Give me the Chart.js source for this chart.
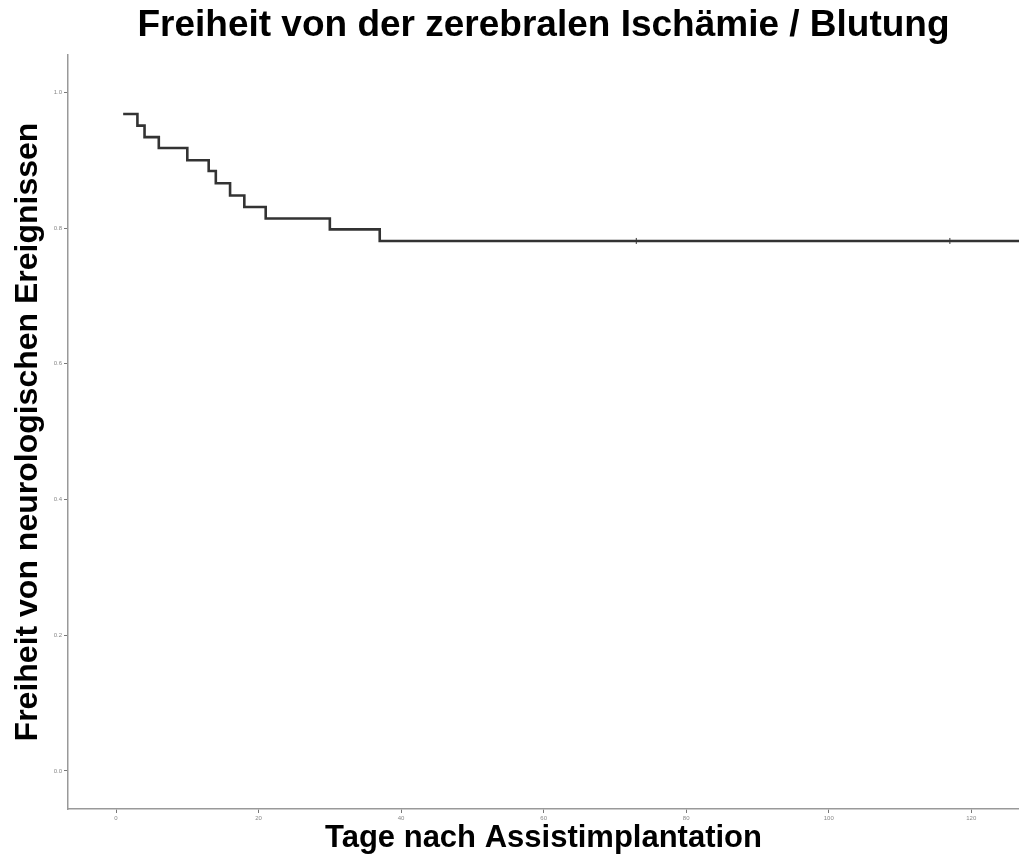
<!DOCTYPE html>
<html>
<head>
<meta charset="utf-8">
<script src="https://cdn.jsdelivr.net/npm/chart.js@4.4.0/dist/chart.umd.min.js"></script>
<style>
  html, body { margin: 0; padding: 0; background: #fff; overflow: hidden; }
  canvas { display: block; }
</style>
</head>
<body>
<canvas id="kmChart" width="1019" height="859"></canvas>
<script>
// Kaplan-Meier Stufen: Zeitpunkte (Tage) und Überlebensanteil
const eventDays = [1, 3, 4, 6, 10, 13, 14, 16, 18, 21, 30, 37, 127];
const freedom = [0.968, 0.951, 0.934, 0.918, 0.900, 0.884, 0.866, 0.848, 0.831, 0.814, 0.798, 0.781, 0.781];
// zensierte Beobachtungen
const censorDays = [73, 117];
const censorValues = [0.781, 0.781];

const xTicks = [0, 20, 40, 60, 80, 100, 120];
const yTicks = [0.0, 0.2, 0.4, 0.6, 0.8, 1.0];

const fontFamily = "'Liberation Sans', Arial, Helvetica, sans-serif";

const ctx = document.getElementById('kmChart').getContext('2d');
new Chart(ctx, {
    type: 'line',
    data: {
        datasets: [{
            label: 'Freiheit',
            data: eventDays.map((d, i) => ({ x: d, y: freedom[i] })),
            stepped: true,
            borderColor: '#333',
            borderWidth: 2.6,
            pointRadius: 0,
            fill: false
        },
        {
            label: 'zensiert',
            data: censorDays.map((d, i) => ({ x: d, y: censorValues[i] })),
            showLine: false,
            pointStyle: 'line',
            rotation: 90,
            pointRadius: 3,
            borderColor: '#333',
            borderWidth: 1
        }]
    },
    options: {
        responsive: false,
        animation: false,
        // kein Auto-Padding, damit die x-Achse bis an den rechten Rand läuft
        layout: { padding: 0, autoPadding: false },
        plugins: {
            legend: { display: false },
            tooltip: { enabled: false },
            title: {
                display: true,
                fullSize: false,
                text: 'Freiheit von der zerebralen Ischämie / Blutung',
                color: '#000',
                font: { family: fontFamily, size: 37, weight: 'bold' },
                padding: { top: 4, bottom: 6.6 }
            }
        },
        scales: {
            x: {
                type: 'linear',
                min: -6.74,
                max: 126.7,
                afterBuildTicks: (scale) => { scale.ticks = xTicks.map(v => ({ value: v })); },
                afterFit: (scale) => {
                    scale.height = 50;
                    scale.paddingLeft = 0;
                    scale.paddingRight = 0;
                },
                ticks: {
                    color: '#888',
                    font: { family: fontFamily, size: 6 },
                    padding: 2,
                    maxRotation: 0
                },
                grid: { drawOnChartArea: false, drawTicks: true, tickLength: 4, color: '#777' },
                border: { color: '#999', width: 1.5 },
                title: {
                    display: true,
                    text: 'Tage nach Assistimplantation',
                    color: '#000',
                    font: { family: fontFamily, size: 31, weight: 'bold' },
                    padding: { top: 0, bottom: 2 }
                }
            },
            y: {
                type: 'linear',
                min: -0.056,
                max: 1.055,
                afterBuildTicks: (scale) => { scale.ticks = yTicks.map(v => ({ value: v })); },
                afterFit: (scale) => { scale.width = 68; },
                ticks: {
                    color: '#888',
                    font: { family: fontFamily, size: 6 },
                    padding: 2,
                    callback: (v) => v.toFixed(1)
                },
                grid: { drawOnChartArea: false, drawTicks: true, tickLength: 4, color: '#777' },
                border: { color: '#999', width: 1.5 },
                title: {
                    display: true,
                    text: 'Freiheit von neurologischen Ereignissen',
                    color: '#000',
                    font: { family: fontFamily, size: 32, weight: 'bold' },
                    padding: { top: 9, bottom: 0 }
                }
            }
        }
    }
});
</script>
</body>
</html>
